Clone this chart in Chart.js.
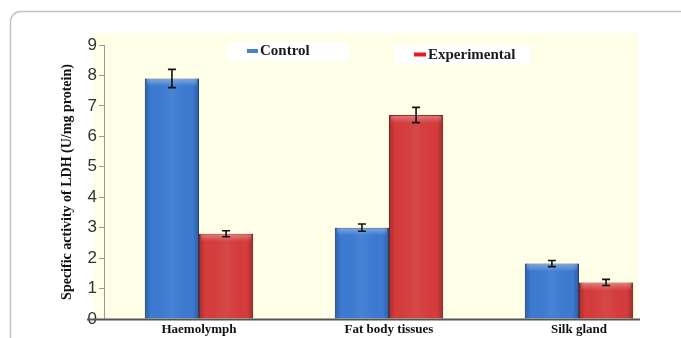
<!DOCTYPE html>
<html>
<head>
<meta charset="utf-8">
<script src="https://cdn.jsdelivr.net/npm/chart.js@4.4.1/dist/chart.umd.min.js"></script>
<style>
html,body{margin:0;padding:0;background:#fff;}
#wrap{position:relative;width:681px;height:338px;}
</style>
</head>
<body>
<div id="wrap"><canvas id="c" width="681" height="338"></canvas></div>
<script>
const categories = ["Haemolymph", "Fat body tissues", "Silk gland"];
const controlValues = [7.9, 3.0, 1.82];
const controlErrors = [0.3, 0.12, 0.1];
const experimentalValues = [2.8, 6.7, 1.2];
const experimentalErrors = [0.1, 0.25, 0.1];
const seriesNames = ["Control", "Experimental"];
const yTicks = [0, 1, 2, 3, 4, 5, 6, 7, 8, 9];
const yTitle = "Specific activity of LDH (U/mg protein)";

const serif = "'Liberation Serif', 'Times New Roman', serif";
const sans = "'Liberation Sans', Arial, sans-serif";

const bgPlugin = {
  id: 'bg',
  beforeDraw(chart) {
    const ctx = chart.ctx;
    ctx.save();
    ctx.fillStyle = '#ffffff';
    ctx.fillRect(0, 0, chart.width, chart.height);
    // outer frame (top + left, rounded corner)
    ctx.strokeStyle = '#c4c4c4';
    ctx.lineWidth = 1.5;
    ctx.beginPath();
    ctx.moveTo(10.5, chart.height + 2);
    ctx.lineTo(10.5, 21.5);
    ctx.arcTo(10.5, 11.5, 20.5, 11.5, 10);
    ctx.lineTo(chart.width + 2, 11.5);
    ctx.stroke();
    // cream plot background
    const y = chart.scales.y;
    ctx.fillStyle = '#fffee6';
    ctx.fillRect(93, 33, 545, y.getPixelForValue(0) - 33);
    ctx.restore();
  },
  afterDatasetsDraw(chart) {
    const ctx = chart.ctx;
    const y = chart.scales.y;
    ctx.save();
    // bar shading
    chart.data.datasets.forEach((ds, di) => {
      const meta = chart.getDatasetMeta(di);
      meta.data.forEach(bar => {
        const l = bar.x - bar.width / 2, r = bar.x + bar.width / 2;
        const g = ctx.createLinearGradient(l, 0, r, 0);
        g.addColorStop(0, 'rgba(0,0,0,0.22)');
        g.addColorStop(0.12, 'rgba(0,0,0,0.0)');
        g.addColorStop(0.5, 'rgba(255,255,255,0.06)');
        g.addColorStop(0.88, 'rgba(0,0,0,0.0)');
        g.addColorStop(1, 'rgba(0,0,0,0.25)');
        ctx.fillStyle = g;
        ctx.fillRect(l, bar.y, bar.width, bar.base - bar.y);
        const g2 = ctx.createLinearGradient(0, bar.y, 0, bar.y + 8);
        g2.addColorStop(0, 'rgba(255,255,255,0.35)');
        g2.addColorStop(1, 'rgba(255,255,255,0)');
        ctx.fillStyle = g2;
        ctx.fillRect(l + 2, bar.y + 1, bar.width - 4, 8);
      });
    });
    // error bars
    const errs = [controlErrors, experimentalErrors];
    ctx.strokeStyle = '#111';
    ctx.lineWidth = 1.6;
    chart.data.datasets.forEach((ds, di) => {
      const meta = chart.getDatasetMeta(di);
      meta.data.forEach((bar, i) => {
        const v = ds.data[i], e = errs[di][i];
        const yt = y.getPixelForValue(v + e), yb = y.getPixelForValue(v - e);
        ctx.beginPath();
        ctx.moveTo(bar.x, yt); ctx.lineTo(bar.x, yb);
        ctx.moveTo(bar.x - 4, yt); ctx.lineTo(bar.x + 4, yt);
        ctx.moveTo(bar.x - 4, yb); ctx.lineTo(bar.x + 4, yb);
        ctx.stroke();
      });
    });
    // baseline
    const y0 = y.getPixelForValue(0);
    ctx.strokeStyle = '#555';
    ctx.lineWidth = 2;
    ctx.beginPath();
    ctx.moveTo(87, y0 + 0.5);
    ctx.lineTo(640, y0 + 0.5);
    ctx.stroke();
    ctx.restore();
  },
  afterDraw(chart) {
    const ctx = chart.ctx;
    ctx.save();
    const items = [
      {box: [227, 42, 122, 19], mark: [247, 49, 11, 4], color: '#4a80c8', tx: 260, ty: 55, text: seriesNames[0]},
      {box: [395, 45, 136, 19], mark: [414, 52.5, 12, 4], color: '#e81a20', tx: 428, ty: 59, text: seriesNames[1]}
    ];
    items.forEach(it => {
      ctx.fillStyle = '#ffffff';
      ctx.fillRect(...it.box);
      ctx.fillStyle = it.color;
      ctx.fillRect(...it.mark);
      ctx.fillStyle = '#1a1a1a';
      ctx.font = "bold 15px " + serif;
      ctx.textBaseline = 'alphabetic';
      ctx.fillText(it.text, it.tx, it.ty);
    });
    ctx.restore();
  }
};

new Chart(document.getElementById('c'), {
  type: 'bar',
  data: {
    labels: categories,
    datasets: [
      {label: seriesNames[0], data: controlValues, backgroundColor: '#3c7bd2', borderColor: '#2a5599', borderWidth: 1,
       categoryPercentage: 0.57, barPercentage: 1.0},
      {label: seriesNames[1], data: experimentalValues, backgroundColor: '#d63c3c', borderColor: '#a02828', borderWidth: 1,
       categoryPercentage: 0.57, barPercentage: 1.0}
    ]
  },
  plugins: [bgPlugin],
  options: {
    responsive: false,
    animation: false,
    devicePixelRatio: 1,
    layout: {padding: {left: 0, right: 7, top: 45, bottom: 0}},
    plugins: {legend: {display: false}, tooltip: {enabled: false}},
    scales: {
      x: {
        grid: {display: false, drawTicks: false},
        border: {display: false},
        ticks: {font: {family: serif, size: 13, weight: 'bold'}, color: '#111', padding: 3},
        afterFit: s => { s.height = 19; }
      },
      y: {
        min: 0, max: 9,
        afterBuildTicks: s => { s.ticks = yTicks.map(v => ({value: v})); },
        ticks: {font: {family: sans, size: 17}, color: '#333', padding: 2},
        grid: {drawOnChartArea: false, tickLength: 5, color: '#999'},
        border: {color: '#999', width: 1},
        title: {display: true, text: yTitle, font: {family: serif, size: 14, weight: 'bold'}, color: '#111', padding: {top: 59, bottom: 0}},
        afterFit: s => { s.width = 104; }
      }
    }
  }
});
</script>
</body>
</html>
